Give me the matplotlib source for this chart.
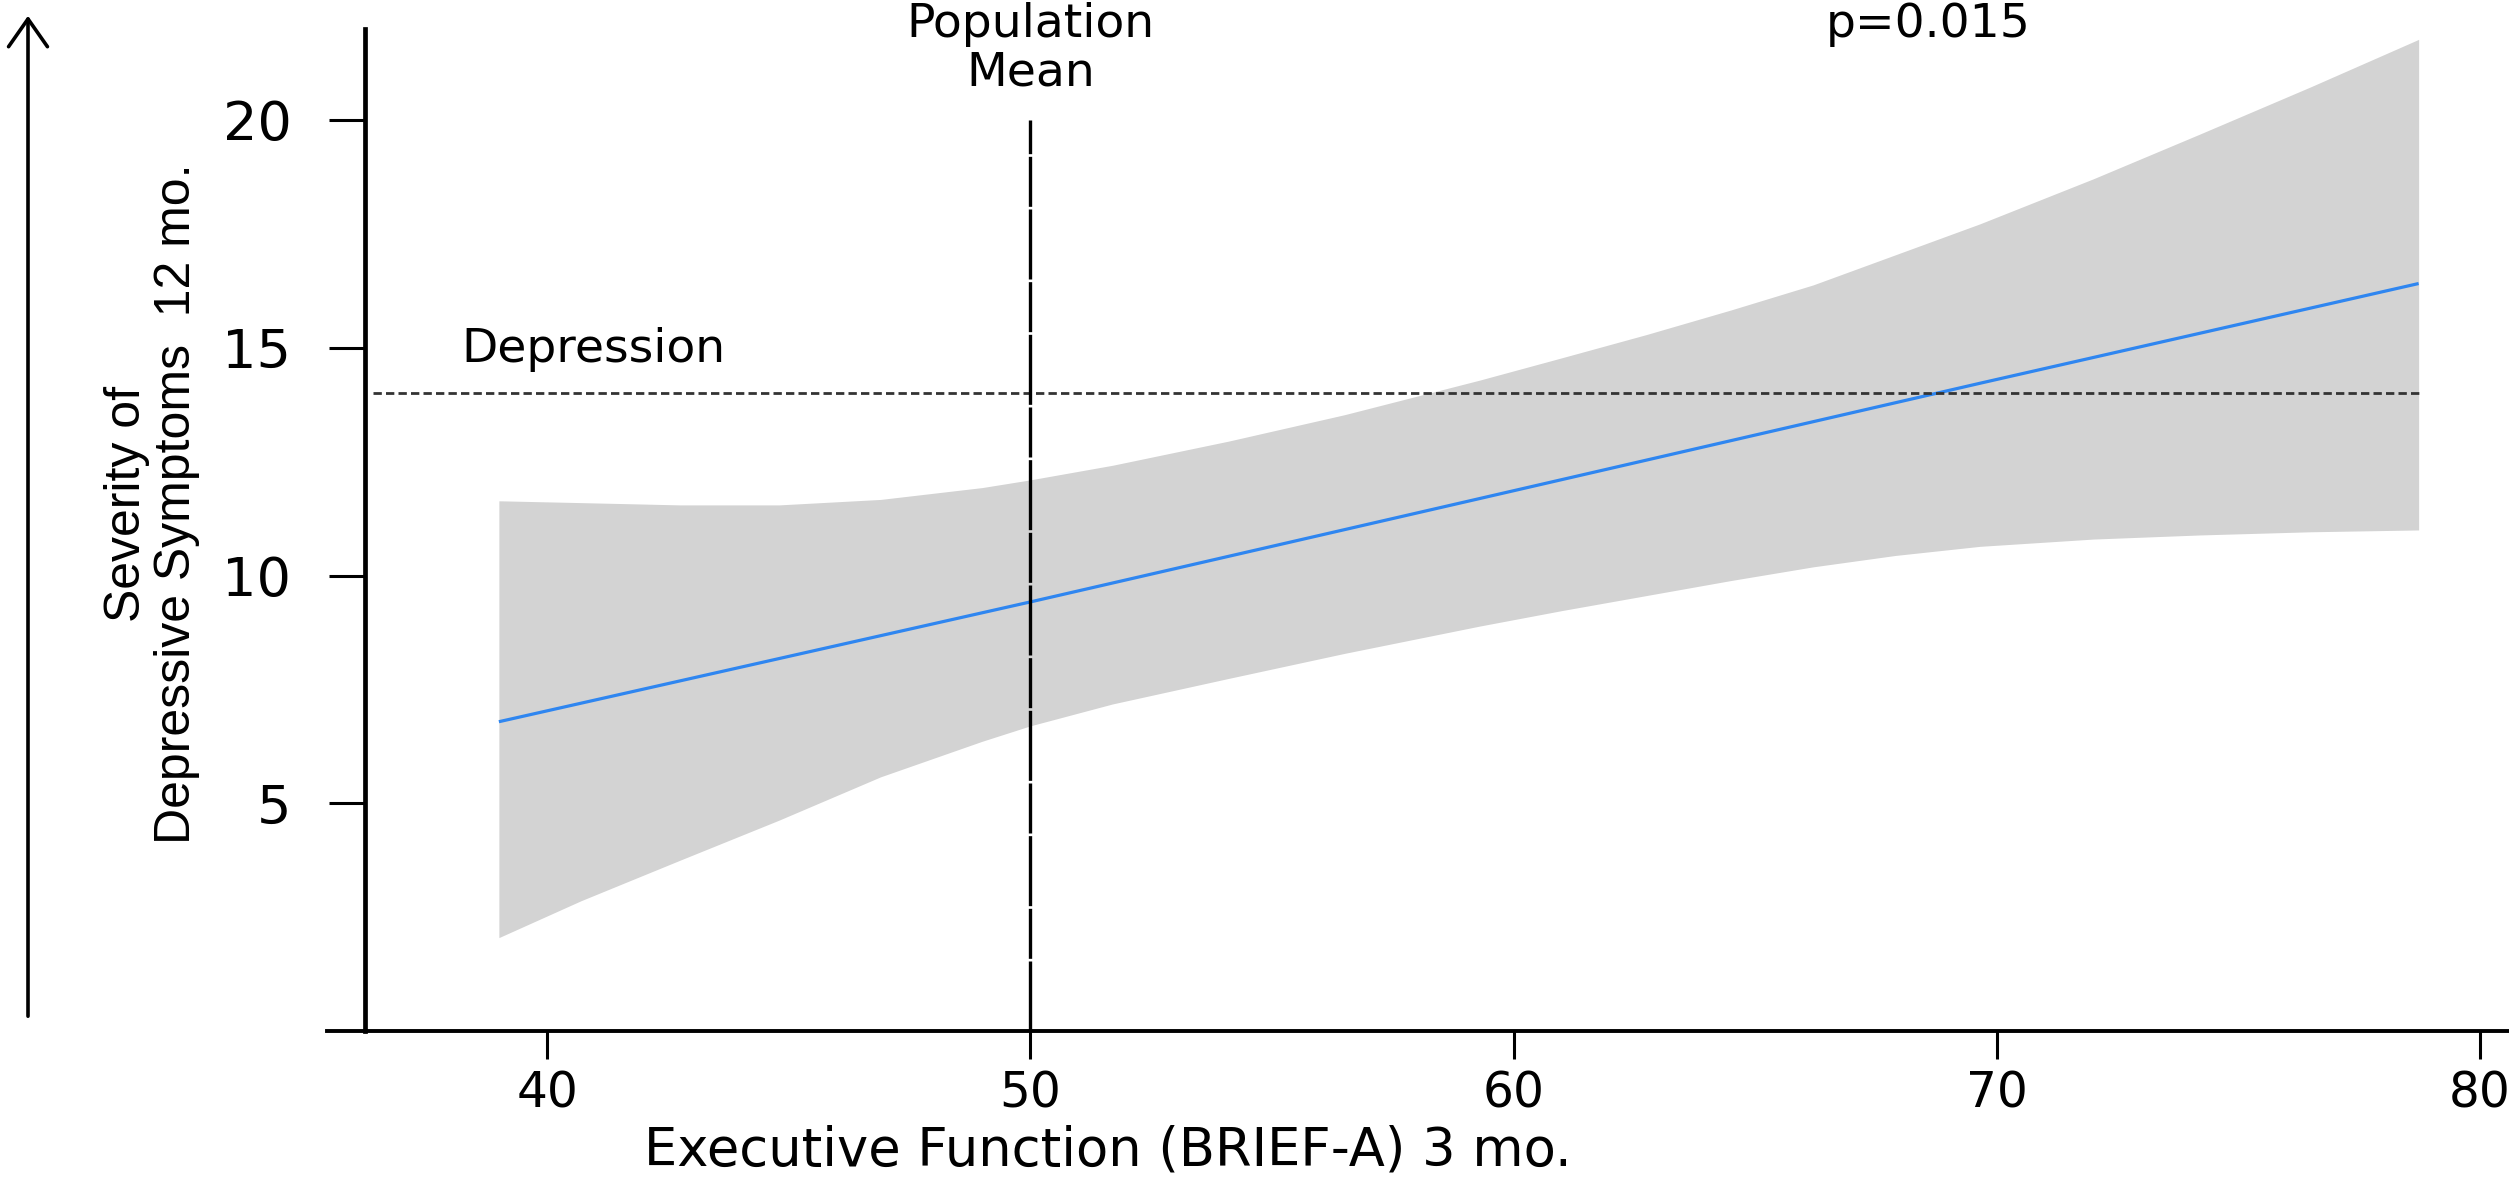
import matplotlib
matplotlib.use("Agg")
import matplotlib.pyplot as plt
from matplotlib import font_manager
from matplotlib.patches import FancyArrowPatch

# ---------------- data ----------------
fit_x = [39.0, 50.0, 59.3, 69.65, 78.73]
fit_y = [6.79, 9.42, 11.69, 14.22, 16.41]

ci_x = [39.0, 40.7, 42.75, 44.8, 46.9, 49.0, 50.0, 51.7, 54.1, 56.5, 59.3, 61.0,
        62.75, 64.5, 66.2, 67.9, 69.65, 72.0, 74.2, 76.5, 78.73]
ci_upper = [11.64, 11.60, 11.55, 11.55, 11.67, 11.93, 12.10, 12.42, 12.95, 13.53, 14.29, 14.78,
            15.29, 15.83, 16.38, 17.04, 17.72, 18.71, 19.69, 20.73, 21.77]
ci_lower = [2.05, 2.86, 3.75, 4.63, 5.58, 6.36, 6.70, 7.18, 7.74, 8.29, 8.89, 9.23,
            9.56, 9.89, 10.19, 10.44, 10.64, 10.80, 10.89, 10.96, 11.00]

population_mean = 50
mean_line_y = [0, 20]
depression_cutoff = 14
cutoff_line_x = [36.4, 78.8]

x_ticks = [40, 50, 60, 70, 80]
y_ticks = [5, 10, 15, 20]

x_label = "Executive Function (BRIEF-A) 3 mo."
y_label = "Severity of\nDepressive Symptoms  12 mo."
p_text = "p=0.015"

# ---------------- layout ----------------
W, H, DPI = 2509, 1182, 100
fig = plt.figure(figsize=(W / DPI, H / DPI), dpi=DPI)
fig.patch.set_facecolor("white")

XPX0, XSCALE = 547.2, 48.32   # pixel of x=40, pixels per unit
YPX20, YSCALE = 120.0, 45.55  # pixel of y=20, pixels per unit


def px_x(x):
    return XPX0 + (x - 40) * XSCALE


def px_y(y):
    return YPX20 + (20 - y) * YSCALE


def data_y(py):
    return 20 - (py - YPX20) / YSCALE


xmin, xmax = 35.0, 80.6
ymin, ymax = 0.0, 22.3
ax = fig.add_axes([px_x(xmin) / W, 1 - px_y(ymin) / H,
                   (px_x(xmax) - px_x(xmin)) / W, (px_y(ymin) - px_y(ymax)) / H])
ax.set_xlim(xmin, xmax)
ax.set_ylim(ymin, ymax)
ax.patch.set_alpha(0)

# confidence band and fit
ax.fill_between(ci_x, ci_lower, ci_upper, color="#d3d3d3", lw=0, zorder=1)
ax.plot(fit_x, fit_y, color="#2f86f0", lw=2.3, zorder=3, solid_capstyle="butt")

# reference lines
ax.hlines(depression_cutoff, cutoff_line_x[0], cutoff_line_x[1], colors="#333333",
          lw=2.0, linestyles=(0, (3.0, 1.5)), zorder=4)
ax.vlines(population_mean, mean_line_y[0], mean_line_y[1], colors="black",
          lw=2.4, linestyles=(0, (21, 0.8, 15, 0.8)), zorder=4)

# annotations
ann_font = dict(family="DejaVu Sans", size=34, color="black")
ax.text(38.22, data_y(362), "Depression", ha="left", va="baseline", clip_on=False, **ann_font)
ax.text(population_mean, data_y(37), "Population", ha="center", va="baseline", clip_on=False, **ann_font)
ax.text(population_mean, data_y(86), "Mean", ha="center", va="baseline", clip_on=False, **ann_font)
ax.text(68.58, data_y(37), p_text, ha="center", va="baseline", clip_on=False, **ann_font)

# spines / axes
for s in ("top", "right"):
    ax.spines[s].set_visible(False)
ax.spines["left"].set_position(("data", 36.23))
ax.spines["left"].set_bounds(0, 22.0)
ax.spines["left"].set_linewidth(3.4)
ax.spines["bottom"].set_bounds(35.44, xmax)
ax.spines["bottom"].set_linewidth(2.8)

ax.set_xticks(x_ticks)
ax.set_yticks(y_ticks)
ax.tick_params(axis="x", length=20, width=2.2, pad=8, labelsize=35, direction="out")
ax.tick_params(axis="y", length=26, width=2.2, pad=27, labelsize=39, direction="out")
for lab in ax.get_xticklabels() + ax.get_yticklabels():
    lab.set_family("DejaVu Sans")

ax.set_xlabel(x_label, family="DejaVu Sans", size=38)
ax.xaxis.set_label_coords((51.6 - xmin) / (xmax - xmin), (px_y(0) - 1124) / (px_y(0) - px_y(ymax)))

names = {f.name for f in font_manager.fontManager.ttflist}
if "Liberation Sans Narrow" in names:
    yl_family, yl_size = "Liberation Sans Narrow", 43.5
else:
    yl_family, yl_size = "Liberation Sans", 36
ax.set_ylabel(y_label, family=yl_family, size=yl_size, linespacing=1.1, multialignment="center")
ax.yaxis.set_label_coords((200 - px_x(xmin)) / (px_x(xmax) - px_x(xmin)),
                          (px_y(0) - 504) / (px_y(0) - px_y(ymax)))

# left arrow
arrow = FancyArrowPatch((28 / W, 1 - 1019 / H), (28 / W, 1 - 13 / H),
                        transform=fig.transFigure,
                        arrowstyle="->,head_length=20,head_width=14",
                        lw=2.6, color="black", mutation_scale=1)
fig.add_artist(arrow)

fig.savefig("out.png", dpi=DPI, facecolor="white")
